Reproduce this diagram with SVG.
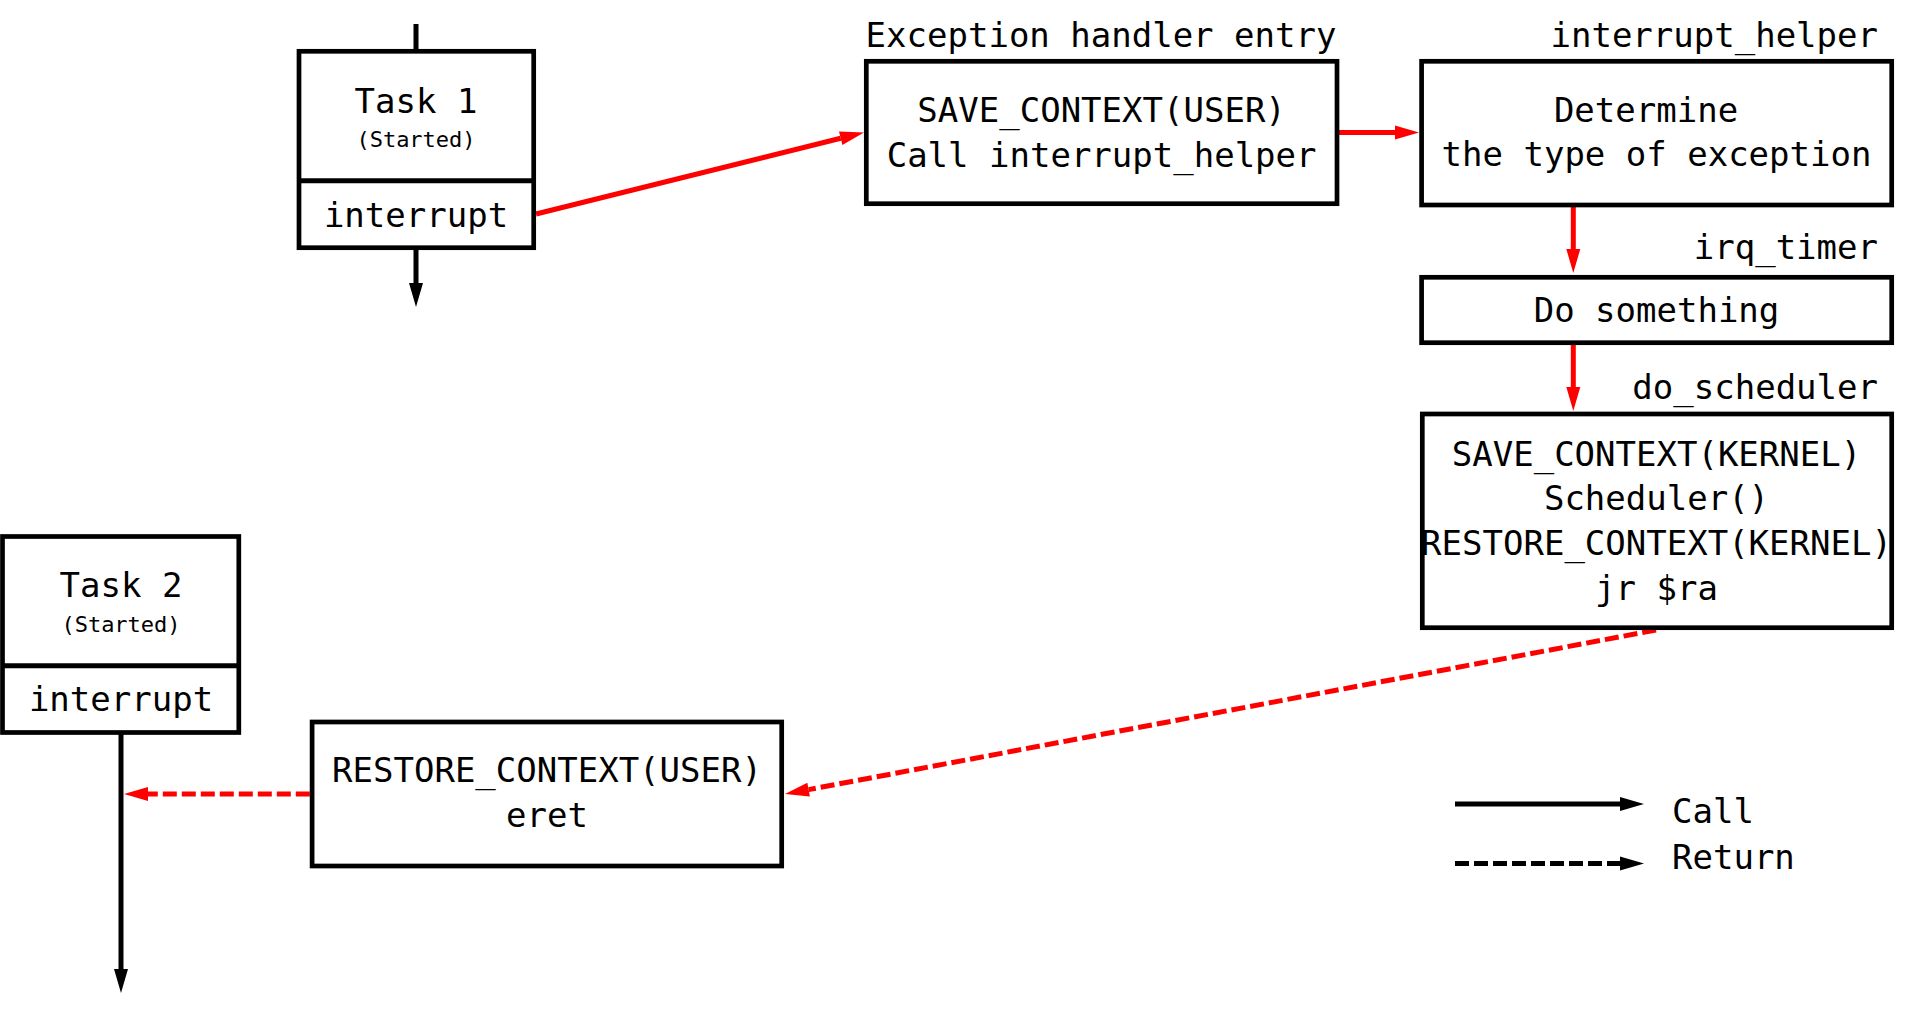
<svg xmlns="http://www.w3.org/2000/svg" width="1916" height="1018" viewBox="0 0 1916 1018">
<style>
.box{fill:#fff;stroke:#000;stroke-width:4.7}
.t{font-family:"DejaVu Sans Mono","Liberation Mono",monospace;font-size:34px;fill:#000;text-anchor:middle}
.s{font-size:22px}
.r{stroke:#f00;stroke-width:5;fill:none}
.k{stroke:#000;stroke-width:5;fill:none}
.d{stroke-dasharray:14,5}
</style>
<defs>
<marker id="ar" markerUnits="userSpaceOnUse" markerWidth="24" markerHeight="14" refX="0" refY="7" orient="auto" overflow="visible"><path d="M0,0 L24,7 L0,14 z" fill="#f00"/></marker>
<marker id="ak" markerUnits="userSpaceOnUse" markerWidth="24" markerHeight="14" refX="0" refY="7" orient="auto" overflow="visible"><path d="M0,0 L24,7 L0,14 z" fill="#000"/></marker>
</defs>
<rect width="1916" height="1018" fill="#fff"/>
<g id="connectors">
<line class="k" x1="416" y1="24" x2="416" y2="50"/>
<line class="k" x1="416" y1="249" x2="416" y2="283" marker-end="url(#ak)"/>
<line class="r" x1="536" y1="214" x2="840.7" y2="138.3" marker-end="url(#ar)"/>
<line class="r" x1="1339" y1="132.5" x2="1395" y2="132.5" marker-end="url(#ar)"/>
<line class="r" x1="1573.3" y1="207" x2="1573.3" y2="249" marker-end="url(#ar)"/>
<line class="r" x1="1573.3" y1="345" x2="1573.3" y2="387" marker-end="url(#ar)"/>
<line class="r d" x1="1656" y1="630" x2="808.6" y2="789.6" marker-end="url(#ar)"/>
<line class="r d" x1="309.8" y1="794" x2="148" y2="794" marker-end="url(#ar)"/>
<line class="k" x1="121" y1="734" x2="121" y2="969" marker-end="url(#ak)"/>
</g>
<g id="task1">
<rect class="box" x="299" y="51.3" width="234.7" height="196.4"/>
<line class="k" x1="299" y1="180.7" x2="533.7" y2="180.7" stroke-width="4.7"/>
<text class="t" x="416" y="113.3">Task 1</text>
<text class="t s" x="416" y="146.7">(Started)</text>
<text class="t" x="416" y="226.7">interrupt</text>
</g>
<g id="exception_entry">
<text class="t" x="1101" y="47.3">Exception handler entry</text>
<rect class="box" x="866.3" y="61.3" width="470.7" height="142.4"/>
<text class="t" x="1101.6" y="121.7">SAVE_CONTEXT(USER)</text>
<text class="t" x="1101.6" y="166.7">Call interrupt_helper</text>
</g>
<g id="interrupt_helper">
<text class="t" x="1878" y="46.7" style="text-anchor:end">interrupt_helper</text>
<rect class="box" x="1421.6" y="61.3" width="470.1" height="143.7"/>
<text class="t" x="1646" y="121.7">Determine</text>
<text class="t" x="1656.5" y="165.7">the type of exception</text>
</g>
<g id="irq_timer">
<text class="t" x="1878" y="259.3" style="text-anchor:end">irq_timer</text>
<rect class="box" x="1421.6" y="277.3" width="470.1" height="65.4"/>
<text class="t" x="1656.5" y="321.7">Do something</text>
</g>
<g id="do_scheduler">
<text class="t" x="1878" y="399" style="text-anchor:end">do_scheduler</text>
<rect class="box" x="1422.3" y="414" width="469.4" height="213.7"/>
<text class="t" x="1656.5" y="465.7">SAVE_CONTEXT(KERNEL)</text>
<text class="t" x="1656.5" y="510">Scheduler()</text>
<text class="t" x="1656.5" y="555">RESTORE_CONTEXT(KERNEL)</text>
<text class="t" x="1656.5" y="600">jr $ra</text>
</g>
<g id="restore_user">
<rect class="box" x="312.1" y="722" width="469.6" height="144"/>
<text class="t" x="547" y="782.3">RESTORE_CONTEXT(USER)</text>
<text class="t" x="547" y="827.3">eret</text>
</g>
<g id="task2">
<rect class="box" x="2.5" y="536.5" width="236.3" height="196"/>
<line class="k" x1="2.5" y1="665.7" x2="238.8" y2="665.7" stroke-width="4.7"/>
<text class="t" x="121" y="597.3">Task 2</text>
<text class="t s" x="121" y="632.3">(Started)</text>
<text class="t" x="121" y="710.7">interrupt</text>
</g>
<g id="legend">
<line class="k" x1="1455" y1="804" x2="1620" y2="804" marker-end="url(#ak)"/>
<line class="k d" x1="1455" y1="863.5" x2="1620" y2="863.5" marker-end="url(#ak)"/>
<text class="t" x="1672" y="823.3" style="text-anchor:start">Call</text>
<text class="t" x="1672" y="869.3" style="text-anchor:start">Return</text>
</g>
</svg>
